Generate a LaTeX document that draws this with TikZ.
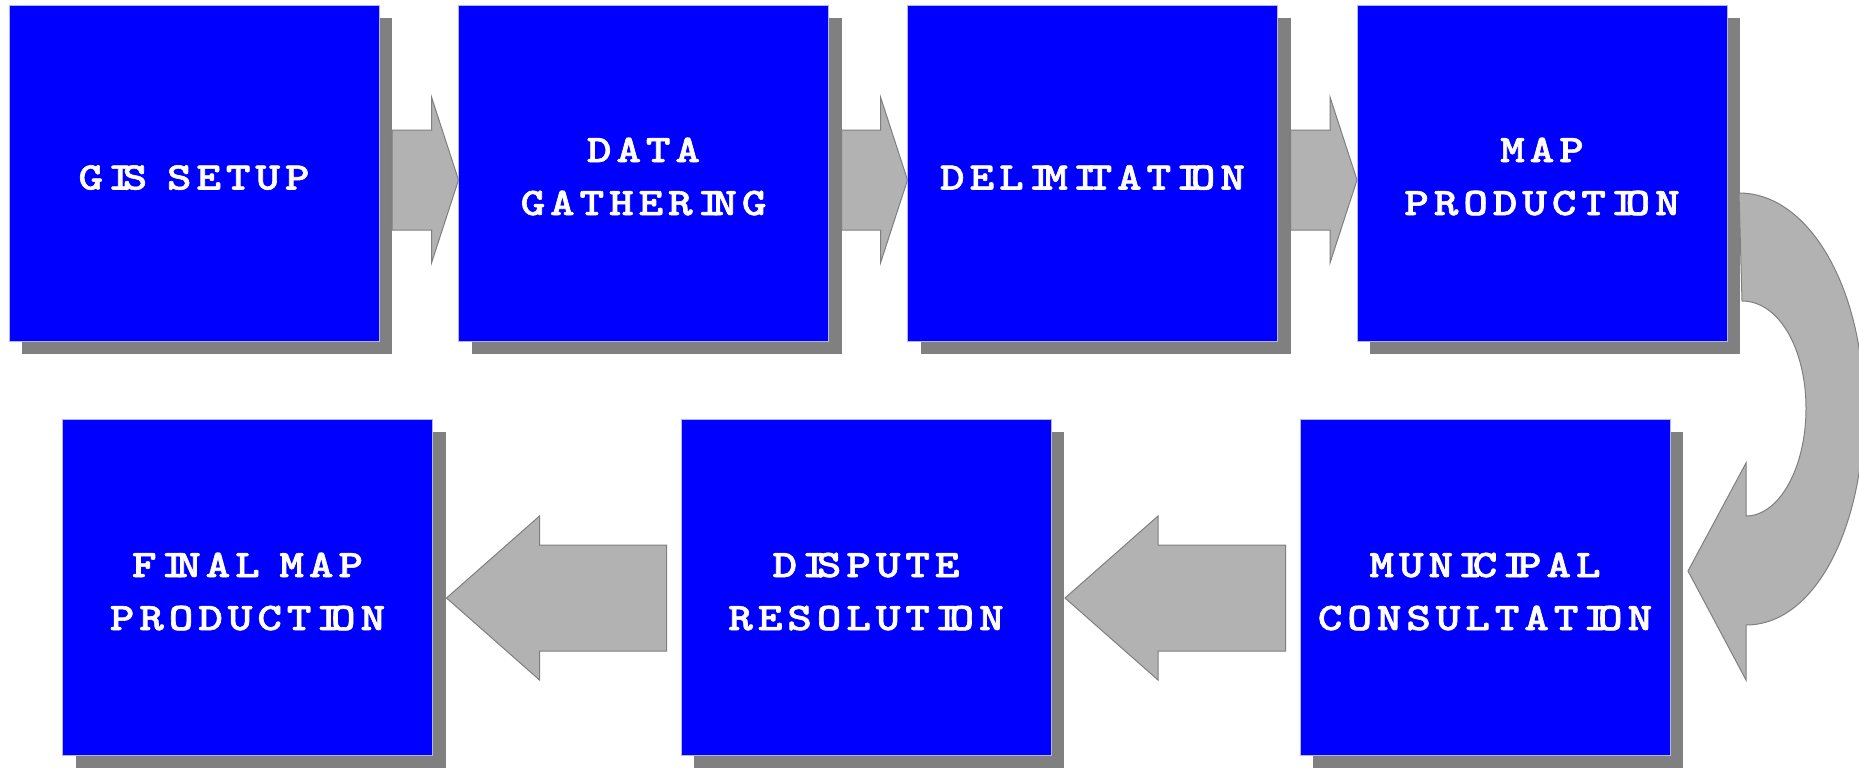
\documentclass[tikz,border=0pt]{standalone}
\usepackage{graphicx}
\usepackage{fontspec}
\newfontfamily\boxfont{lmmonolt10-bold.otf}[FakeBold=1.5]
\usetikzlibrary{calc}
\definecolor{shadowgray}{HTML}{808080}
\definecolor{arrowgray}{HTML}{B2B2B2}
\definecolor{arrowline}{HTML}{7F7F7F}
\definecolor{boxedge}{HTML}{B4B4FF}
\newlength\cellw
\setlength\cellw{14.75pt}
\newcommand\ltr[1]{\makebox[\cellw]{\scalebox{1.2}[1]{#1}}}
\newcommand\ltrI{\makebox[0.5\cellw][r]{\makebox[0pt]{\scalebox{1.2}[1]{I}}}}
\makeatletter
\def\sp@I{I}
\def\sp@plus{+}
\newcommand\spaced[1]{\@tfor\sp@c:=#1\do{\ifx\sp@c\sp@I\ltrI\else\ifx\sp@c\sp@plus\hspace{0.5\cellw}\else\ltr{\sp@c}\fi\fi}}
\makeatother
\begin{document}
\begin{tikzpicture}[x=0.5pt,y=-0.5pt,
  box/.style={rectangle, fill=blue, draw=boxedge, line width=0.5pt,
    minimum width=185pt, minimum height=168pt, inner sep=0pt, outer sep=0pt,
    preaction={draw=none, fill=shadowgray, transform canvas={shift={(6.5pt,-6.5pt)}}}},
  lbl/.style={text=white, font=\fontsize{19.5pt}{26pt}\boxfont, inner sep=0pt, anchor=base},
  blockarrow/.style={fill=arrowgray, draw=arrowline, line width=0.5pt, line join=miter}]
\useasboundingbox (0,0) rectangle (1859,767);
\clip (0,0) rectangle (1859,767);

% boxes
\node[box] (b1) at (194,173) {};
\node[box] (b2) at (643.5,173) {};
\node[box] (b3) at (1092.5,173) {};
\node[box] (b4) at (1542,173) {};
\node[box] (b5) at (247.5,587) {};
\node[box] (b6) at (866,587) {};
\node[box] (b7) at (1485,587) {};

% labels
\node[lbl] (t1)  at ($(b1.center)+(0,16.5)$) {\spaced{GIS+SETUP}};
\node[lbl] (t2a) at ($(b2.center)+(0,-11)$) {\spaced{DATA}};
\node[lbl] (t2b) at ($(b2.center)+(0,42)$) {\spaced{GATHERING}};
\node[lbl] (t3)  at ($(b3.center)+(0,16.5)$) {\spaced{DELIMITATION}};
\node[lbl] (t4a) at ($(b4.center)+(0,-11)$) {\spaced{MAP}};
\node[lbl] (t4b) at ($(b4.center)+(0,42)$) {\spaced{PRODUCTION}};
\node[lbl] (t5a) at ($(b5.center)+(0,-10)$) {\spaced{FINAL+MAP}};
\node[lbl] (t5b) at ($(b5.center)+(0,43)$) {\spaced{PRODUCTION}};
\node[lbl] (t6a) at ($(b6.center)+(0,-10)$) {\spaced{DISPUTE}};
\node[lbl] (t6b) at ($(b6.center)+(0,43)$) {\spaced{RESOLUTION}};
\node[lbl] (t7a) at ($(b7.center)+(0,-10)$) {\spaced{MUNICIPAL}};
\node[lbl] (t7b) at ($(b7.center)+(0,43)$) {\spaced{CONSULTATION}};

% top row block arrows (pointing right)
\foreach \a/\b in {b1/b2,b2/b3,b3/b4}{
  \draw[blockarrow] ($(\a.east)+(13,-43)$) -- ($(\b.west)+(-27,-43)$) -- ($(\b.west)+(-27,-76)$)
    -- ($(\b.west)+(0,7)$) -- ($(\b.west)+(-27,90)$) -- ($(\b.west)+(-27,57)$)
    -- ($(\a.east)+(13,57)$) -- cycle;
}

% bottom row block arrows (pointing left)
\foreach \a/\b in {b5/b6,b6/b7}{
  \draw[blockarrow] ($(\a.east)+(14,11)$) -- ($(\a.east)+(107,-71)$) -- ($(\a.east)+(107,-42)$)
    -- ($(\b.west)+(-14.5,-42)$) -- ($(\b.west)+(-14.5,64)$) -- ($(\a.east)+(107,64)$)
    -- ($(\a.east)+(107,93)$) -- cycle;
}

% curved U-turn arrow from b4 to b7
\draw[blockarrow] (1739,193) .. controls (1810,193) and (1864,290) .. (1864,409)
  .. controls (1864,528) and (1815,625) .. (1746,625)
  -- (1746,680) -- (1688,571) -- (1746,463) -- (1746,516)
  .. controls (1779,516) and (1806,468) .. (1806,408.5)
  .. controls (1806,349) and (1779,301) .. (1742,301) -- cycle;
\end{tikzpicture}
\end{document}
